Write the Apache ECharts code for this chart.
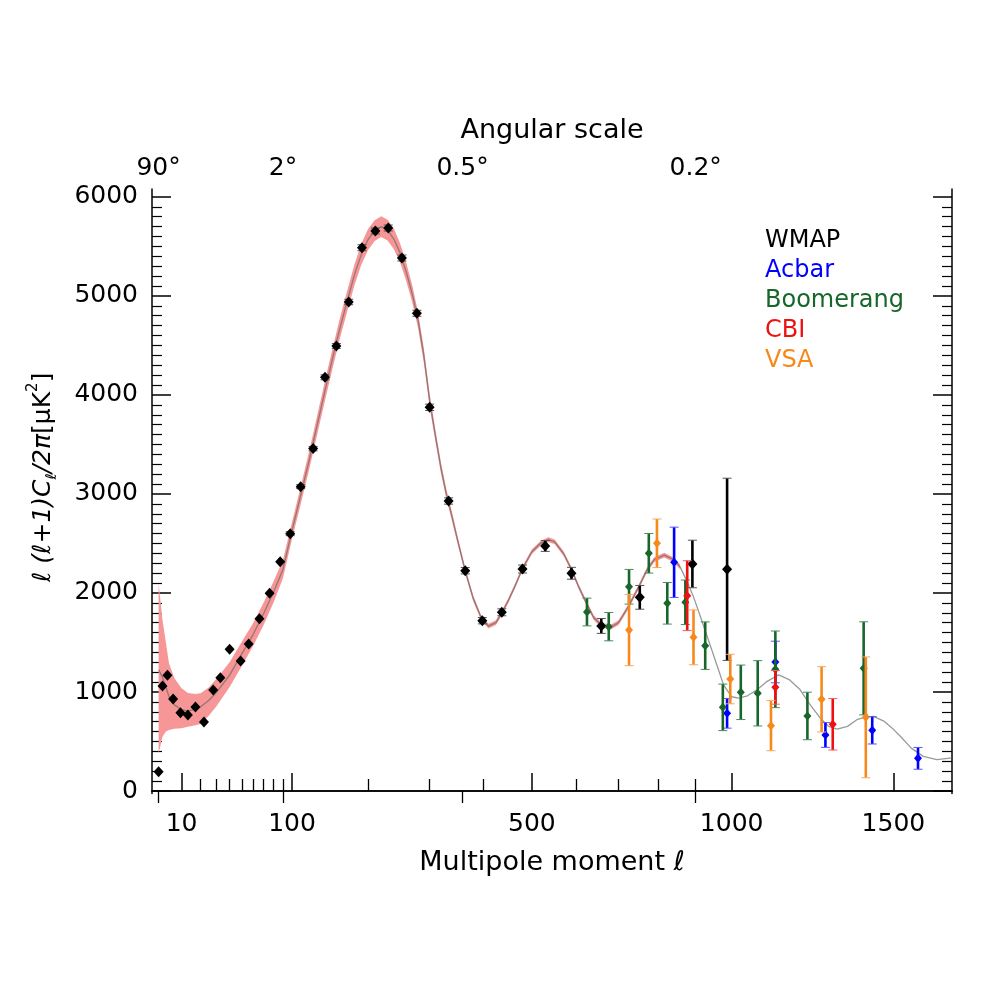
<!DOCTYPE html>
<html>
<head>
<meta charset="utf-8">
<title>CMB angular power spectrum</title>
<script src="https://cdn.jsdelivr.net/npm/echarts@6/dist/echarts.min.js"></script>
<style>
  html, body { margin: 0; background: #fff; }
  #chart { width: 1000px; height: 1000px; }
</style>
</head>
<body>
<div id="chart"></div>
<script>
// multipole axis is drawn on an l^0.6 scale (like the reference), y in muK^2
const P = 0.6;
const toU = l => Math.pow(l, P);

// WMAP
const wmapL = [2, 3, 4.5, 6.5, 9.5, 13, 17, 22, 28, 33, 40, 49, 56, 66, 76, 87,
  98, 110, 125, 140, 155, 172, 191, 211, 231, 253,
  278, 300, 334, 365, 398, 437, 480, 529, 588, 658, 753, 891, 987];
const wmapV = [195, 1060, 1169, 929, 791, 768, 848, 697, 1020, 1144, 1431, 1313, 1485, 1740, 1997, 2316,
  2599, 3074, 3458, 4178, 4495, 4939, 5487, 5656, 5686, 5383,
  4825, 3875, 2929, 2225, 1720, 1805, 2242, 2475, 2199, 1667, 1956, 2293, 2239];
const wmapE = [0, 0, 0, 0, 0, 0, 0, 0, 0, 0, 0, 0, 0, 0, 0, 0,
  20, 20, 22, 25, 25, 28, 30, 30, 30, 30,
  30, 32, 32, 32, 32, 35, 40, 55, 60, 75, 120, 240, 920];

// Acbar
const acbarL = [842, 987, 1127, 1280, 1430, 1583];
const acbarV = [2310, 785, 1303, 566, 613, 330];
const acbarE = [355, 150, 210, 125, 138, 110];

// Boomerang
const boomL = [624, 676, 726, 776, 824, 872, 926, 975, 1026, 1075, 1127, 1224, 1402];
const boomV = [1808, 1660, 2063, 2401, 1896, 1906, 1468, 845, 997, 987, 1229, 758, 1239];
const boomE = [140, 143, 175, 200, 210, 225, 240, 235, 275, 330, 387, 240, 470];

// CBI
const cbiL = [877, 1127, 1303];
const cbiV = [1973, 1047, 674];
const cbiE = [353, 170, 260];

// VSA
const vsaL = [726, 797, 894, 996, 1114, 1268, 1409];
const vsaV = [1626, 2502, 1552, 1131, 660, 926, 744];
const vsaE = [360, 245, 277, 250, 253, 330, 610];

// best fit model
const thL = [2, 3, 4, 5, 7, 10, 13, 17, 20, 25, 30, 40, 50, 60, 70, 80, 90,
  100, 110, 120, 130, 140, 150, 160, 170, 180, 190, 200, 210, 220, 230, 240, 250, 260, 270, 280, 290, 300,
  310, 320, 330, 340, 350, 365, 380, 395, 410, 425, 437, 450, 465, 480, 500, 520, 536, 550, 570, 588,
  605, 623, 640, 660, 683, 700, 724, 750, 771, 790, 816, 840, 858, 876, 894, 912, 940, 960, 977,
  1000, 1020, 1045, 1073, 1100, 1137, 1170, 1202, 1230, 1264, 1290, 1317, 1350, 1380, 1410, 1434,
  1470, 1500, 1524, 1560, 1601, 1648, 1700];
const thV = [1225, 1150, 1050, 955, 870, 820, 810, 825, 850, 915, 992, 1170, 1385, 1580, 1790, 2010, 2238,
  2630, 2985, 3335, 3695, 4043, 4372, 4680, 4950, 5210, 5420, 5570, 5660, 5700, 5665, 5575, 5435, 5245, 5025, 4755, 4395, 3945,
  3595, 3265, 2996, 2777, 2547, 2223, 1949, 1760, 1665, 1700, 1800, 1920, 2079, 2248, 2417, 2507, 2539, 2517, 2398, 2238,
  2059, 1895, 1750, 1670, 1660, 1700, 1861, 2059, 2230, 2338, 2382, 2338, 2264, 2120, 1961, 1770, 1470, 1255, 1072,
  952, 938, 962, 1022, 1102, 1173, 1122, 1022, 882, 737, 653, 626, 653, 720, 748, 753,
  703, 623, 551, 433, 350, 317, 334];

// model uncertainty band
const bandL = [2, 3, 4, 5, 7, 10, 13, 17, 20, 25, 30, 40, 50, 60, 70, 80, 90,
  100, 110, 120, 130, 140, 150, 160, 170, 180, 190, 200, 210, 220, 230, 240, 250, 260, 270, 280, 290, 300,
  310, 320, 330, 340, 350, 365, 380, 395, 410, 425, 437, 450, 465, 480, 500, 520, 536, 550, 570, 588,
  605, 623, 640, 660, 683, 700, 724, 750, 771, 790, 816, 840, 858];
const bandLo = [380, 548, 600, 616, 628, 633, 650, 665, 677, 760, 851, 1050, 1262, 1465, 1677, 1905, 2148,
  2545, 2897, 3243, 3599, 3943, 4272, 4578, 4846, 5105, 5315, 5465, 5555, 5594, 5560, 5472, 5337, 5153, 4939, 4675, 4320, 3875,
  3535, 3210, 2946, 2732, 2507, 2188, 1919, 1736, 1641, 1676, 1776, 1896, 2055, 2224, 2393, 2483, 2515, 2493, 2374, 2214,
  2035, 1871, 1726, 1646, 1636, 1676, 1837, 2035, 2206, 2314, 2358, 2314, 2240];
const bandHi = [2098, 1727, 1500, 1290, 1140, 1037, 990, 980, 987, 1045, 1128, 1300, 1508, 1695, 1902, 2115, 2333,
  2715, 3073, 3427, 3791, 4143, 4472, 4782, 5054, 5315, 5525, 5675, 5765, 5806, 5770, 5678, 5533, 5337, 5111, 4835, 4470, 4015,
  3655, 3320, 3046, 2822, 2587, 2258, 1979, 1784, 1689, 1724, 1824, 1944, 2103, 2272, 2441, 2531, 2563, 2541, 2422, 2262,
  2083, 1919, 1774, 1694, 1684, 1724, 1885, 2083, 2254, 2362, 2406, 2362, 2288];

// axis ticks
const lTicks = [10, 100, 500, 1000, 1500];
const lMinor = [20, 30, 40, 50, 60, 70, 80, 90, 200, 300, 400, 600, 700, 800, 900];
const angL = [2, 90, 360, 900];
const angLabels = ['90°', '2°', '0.5°', '0.2°'];
const yTicks = [0, 1000, 2000, 3000, 4000, 5000, 6000];
const yMinor = [];
for (let v = 100; v < 6000; v += 100) if (v % 1000) yMinor.push(v);

const uMin = 0.806, uMax = 86.77;
const FONT = 'DejaVu Sans';

function pts(ls, vs, es) {
  return ls.map((l, i) => es ? [toU(l), vs[i], es[i]] : [toU(l), vs[i]]);
}

// band drawn as one polygon: upper edge left to right, lower edge back
function bandRender(params, api) {
  if (params.dataIndex !== 0) return { type: 'group', children: [] };
  const upper = bandL.map((l, i) => api.coord([toU(l), bandHi[i]]));
  const lower = bandL.map((l, i) => api.coord([toU(l), bandLo[i]])).reverse();
  return {
    type: 'polygon',
    shape: { points: upper.concat(lower) },
    style: { fill: '#f69696', stroke: 'none' }
  };
}

function errBars(color, capColor, capHalf, lw) {
  return function (params, api) {
    const u = api.value(0), v = api.value(1), e = api.value(2);
    if (!e) return { type: 'group', children: [] };
    const top = api.coord([u, v + e]);
    const bot = api.coord([u, v - e]);
    return {
      type: 'group',
      children: [
        { type: 'line', shape: { x1: top[0], y1: top[1], x2: bot[0], y2: bot[1] },
          style: { stroke: color, lineWidth: lw } },
        { type: 'line', shape: { x1: top[0] - capHalf, y1: top[1], x2: top[0] + capHalf, y2: top[1] },
          style: { stroke: capColor, lineWidth: 1 } },
        { type: 'line', shape: { x1: bot[0] - capHalf, y1: bot[1], x2: bot[0] + capHalf, y2: bot[1] },
          style: { stroke: capColor, lineWidth: 1 } }
      ]
    };
  };
}

const experiments = [
  { name: 'WMAP', color: '#000000', cap: '#555555', l: wmapL, v: wmapV, e: wmapE, size: [10, 11] },
  { name: 'Acbar', color: '#0000ff', cap: '#5555ff', l: acbarL, v: acbarV, e: acbarE, size: [8, 9] },
  { name: 'Boomerang', color: '#17662a', cap: '#4a8a5a', l: boomL, v: boomV, e: boomE, size: [8, 9] },
  { name: 'CBI', color: '#ee1111', cap: '#f06060', l: cbiL, v: cbiV, e: cbiE, size: [8, 9] },
  { name: 'VSA', color: '#f7891c', cap: '#f7a860', l: vsaL, v: vsaV, e: vsaE, size: [8, 9] }
];

const series = [
  { type: 'custom', name: 'band', data: pts(bandL, bandLo, bandHi), encode: { x: 0, y: [1, 2] },
    renderItem: bandRender, silent: true, z: 1 },
  { type: 'line', data: pts(thL, thV), symbol: 'none', silent: true,
    lineStyle: { color: 'rgba(100,100,100,0.65)', width: 1.3 }, z: 2 }
];

experiments.forEach((ex, k) => {
  series.push({
    type: 'custom', name: ex.name + ' errors', data: pts(ex.l, ex.v, ex.e),
    encode: { x: 0, y: 1 }, renderItem: errBars(ex.color, ex.cap, 4.5, 2.6), z: 3 + k * 2, silent: true
  });
  series.push({
    type: 'scatter', name: ex.name, data: pts(ex.l, ex.v), symbol: 'diamond', symbolSize: ex.size,
    itemStyle: { color: ex.color, opacity: 1 }, z: 4 + k * 2, silent: true
  });
});

const axisBlack = { lineStyle: { color: '#000', width: 1.5 } };
const chart = echarts.init(document.getElementById('chart'));
chart.setOption({
  animation: false,
  backgroundColor: '#fff',
  textStyle: { fontFamily: FONT },
  grid: { left: 152, right: 48, top: 189, bottom: 206.5, containLabel: false, outerBoundsMode: 'none' },
  legend: {
    data: experiments.map(ex => ({ name: ex.name, textStyle: { color: ex.color } })),
    orient: 'vertical', left: 755, top: 224, icon: 'none', itemWidth: 0, itemHeight: 24, itemGap: 6,
    textStyle: { fontSize: 24, fontFamily: FONT }, selectedMode: false
  },
  xAxis: [
    {
      type: 'value', position: 'bottom', min: uMin, max: uMax,
      name: 'Multipole moment ℓ', nameLocation: 'middle', nameGap: 56,
      nameTextStyle: { fontSize: 27, color: '#000', fontFamily: FONT },
      axisLine: axisBlack, splitLine: { show: false },
      axisTick: { inside: true, length: 18, customValues: lTicks.map(toU), lineStyle: { color: '#000', width: 1.5 } },
      axisLabel: {
        customValues: lTicks.map(toU), fontSize: 25, color: '#000', margin: 18,
        formatter: v => String(lTicks[lTicks.map(toU).findIndex(u => Math.abs(u - v) < 1e-6)])
      }
    },
    {
      type: 'value', position: 'bottom', min: uMin, max: uMax,
      axisLine: { show: false }, splitLine: { show: false }, axisLabel: { show: false },
      axisTick: { inside: true, length: 12, customValues: lMinor.map(toU), lineStyle: { color: '#000', width: 1.3 } }
    },
    {
      type: 'value', position: 'top', min: uMin, max: uMax,
      name: 'Angular scale', nameLocation: 'middle', nameGap: 45,
      nameTextStyle: { fontSize: 27, color: '#000', fontFamily: FONT },
      axisLine: axisBlack, splitLine: { show: false },
      axisTick: { inside: true, length: 12, customValues: angL.map(toU), lineStyle: { color: '#000', width: 1.3 } },
      axisLabel: {
        customValues: angL.map(toU), fontSize: 25, color: '#000', margin: 8,
        formatter: v => angLabels[angL.map(toU).findIndex(u => Math.abs(u - v) < 1e-6)]
      }
    }
  ],
  yAxis: [
    {
      type: 'value', position: 'left', min: -25, max: 6080,
      name: '{i|ℓ (ℓ+1)C}{s|ℓ}{i|/2π}{n|[μK}{p|2}{n|]}', nameLocation: 'middle', nameGap: 92,
      nameTextStyle: {
        color: '#000', padding: [0, 0, 0, 28],
        rich: {
          i: { fontSize: 25, fontStyle: 'italic', fontFamily: FONT, lineHeight: 34, verticalAlign: 'middle' },
          n: { fontSize: 25, fontFamily: FONT, lineHeight: 34, verticalAlign: 'middle' },
          s: { fontSize: 15, fontStyle: 'italic', fontFamily: FONT, lineHeight: 34, verticalAlign: 'bottom' },
          p: { fontSize: 15, fontFamily: FONT, lineHeight: 34, verticalAlign: 'top' }
        }
      },
      axisLine: axisBlack, splitLine: { show: false },
      axisTick: { inside: true, length: 19, customValues: yTicks, lineStyle: { color: '#000', width: 1.5 } },
      axisLabel: { customValues: yTicks, fontSize: 25, color: '#000', margin: 14, formatter: v => String(v) }
    },
    {
      type: 'value', position: 'left', min: -25, max: 6080,
      axisLine: { show: false }, splitLine: { show: false }, axisLabel: { show: false },
      axisTick: { inside: true, length: 10, customValues: yMinor, lineStyle: { color: '#000', width: 1.2 } }
    },
    {
      type: 'value', position: 'right', min: -25, max: 6080,
      axisLine: axisBlack, splitLine: { show: false }, axisLabel: { show: false },
      axisTick: { inside: true, length: 19, customValues: yTicks, lineStyle: { color: '#000', width: 1.5 } }
    },
    {
      type: 'value', position: 'right', min: -25, max: 6080,
      axisLine: { show: false }, splitLine: { show: false }, axisLabel: { show: false },
      axisTick: { inside: true, length: 10, customValues: yMinor, lineStyle: { color: '#000', width: 1.2 } }
    }
  ],
  series: series
});
</script>
</body>
</html>
